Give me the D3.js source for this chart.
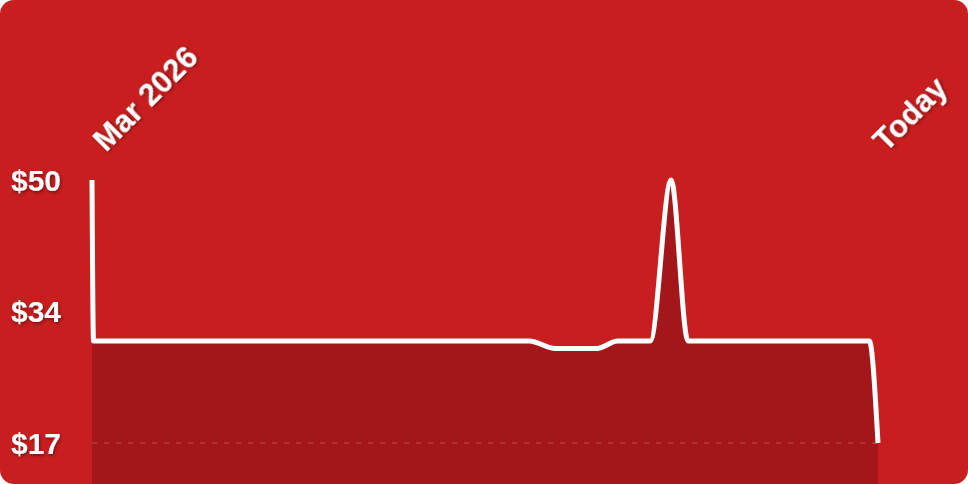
<!DOCTYPE html>
<html>
<head>
<meta charset="utf-8">
<script src="https://cdn.jsdelivr.net/npm/d3@7"></script>
<style>
  html, body { margin: 0; padding: 0; background: #fff; }
  svg { display: block; }
  text { font-family: "Liberation Sans", Arial, Helvetica, sans-serif; font-weight: bold; fill: #fff; }
</style>
</head>
<body>
<div id="chart"></div>
<script>
"use strict";

// price history
var dates = [
	"2026-03-01T00:00", "2026-03-01T07:00", "2026-05-24T00:00", "2026-05-29T00:00",
	"2026-06-06T00:00", "2026-06-10T00:00", "2026-06-16T06:00", "2026-06-20T06:00",
	"2026-06-23T12:00", "2026-07-28T08:00", "2026-07-30T00:00"
];
var prices = [50, 29.8, 29.8, 28.85, 28.85, 29.8, 29.8, 50, 29.8, 29.8, 17];

var yTicks = [17, 33.5, 50];
var xLabels = ["Mar 2026", "Today"];

var width = 968, height = 484;
var margin = {left: 92, right: 90, top: 180, bottom: 41};

var parse = d3.timeParse("%Y-%m-%dT%H:%M");
var data = dates.map(function (d, i) {
	return {date: parse(d), price: prices[i]};
});

var x = d3.scaleTime()
	.domain(d3.extent(data, function (d) { return d.date; }))
	.range([margin.left, width - margin.right]);

var y = d3.scaleLinear()
	.domain([d3.min(prices), d3.max(prices)])
	.range([height - margin.bottom, margin.top]);

var svg = d3.select("#chart").append("svg")
	.attr("width", width)
	.attr("height", height);

var defs = svg.append("defs");
defs.append("clipPath").attr("id", "card")
	.append("rect")
	.attr("width", width).attr("height", height)
	.attr("rx", 14).attr("ry", 14);

var shadow = defs.append("filter").attr("id", "shadow")
	.attr("x", "-20%").attr("y", "-20%").attr("width", "140%").attr("height", "140%");
shadow.append("feDropShadow")
	.attr("dx", 1).attr("dy", 1.5).attr("stdDeviation", 1.5)
	.attr("flood-color", "#3a0000").attr("flood-opacity", 0.55);

var g = svg.append("g").attr("clip-path", "url(#card)");

g.append("rect")
	.attr("width", width).attr("height", height)
	.attr("fill", "#c81e1f");

// area under the line
var area = d3.area()
	.x(function (d) { return x(d.date); })
	.y0(height)
	.y1(function (d) { return y(d.price); })
	.curve(d3.curveMonotoneX);

g.append("path")
	.datum(data)
	.attr("d", area)
	.attr("fill", "#a3171a");

// dashed low line
g.append("line")
	.attr("x1", x.range()[0]).attr("x2", x.range()[1])
	.attr("y1", y(d3.min(prices))).attr("y2", y(d3.min(prices)))
	.attr("stroke", "#c06a6a")
	.attr("stroke-opacity", 0.5)
	.attr("stroke-width", 1.5)
	.attr("stroke-dasharray", "5,7");

var line = d3.line()
	.x(function (d) { return x(d.date); })
	.y(function (d) { return y(d.price); })
	.curve(d3.curveMonotoneX);

g.append("path")
	.datum(data)
	.attr("d", line)
	.attr("fill", "none")
	.attr("stroke", "#fff")
	.attr("stroke-width", 5)
	.attr("stroke-linejoin", "round");

// y labels
g.selectAll(".ylabel")
	.data(yTicks)
	.enter().append("text")
	.attr("class", "ylabel")
	.attr("x", 11)
	.attr("y", function (d) { return y(d); })
	.attr("dy", "0.35em")
	.attr("font-size", 30)
	.attr("filter", "url(#shadow)")
	.text(function (d) { return "$" + Math.round(d); });

// x labels, rotated
var xPos = [x.domain()[0], x.domain()[1]];
var xOff = [14, 8];
g.selectAll(".xlabel")
	.data(xLabels)
	.enter().append("text")
	.attr("class", "xlabel")
	.attr("font-size", 31)
	.attr("filter", "url(#shadow)")
	.attr("transform", function (d, i) {
		return "translate(" + (x(xPos[i]) + xOff[i]) + "," + 153 + ") rotate(-45)";
	})
	.text(function (d) { return d; });
</script>
</body>
</html>
